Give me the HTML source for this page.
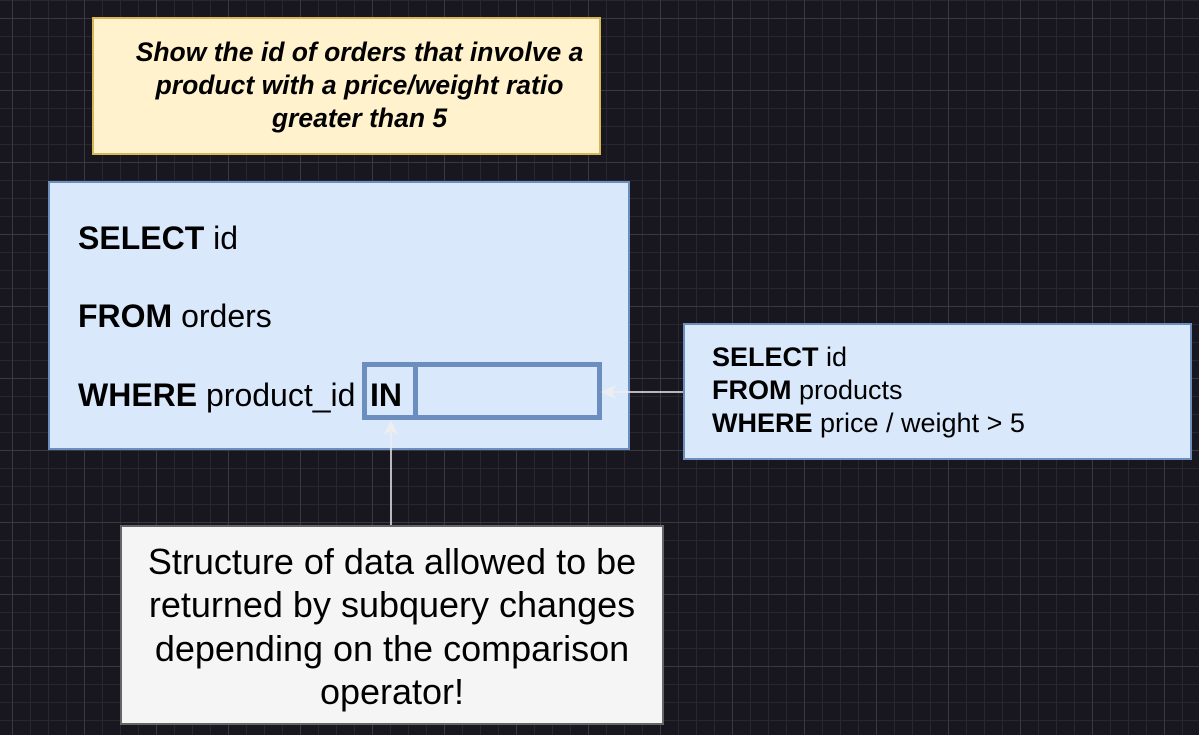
<!DOCTYPE html>
<html><head><style>
body{margin:0;width:1199px;height:735px;overflow:hidden;background:#18161e;font-family:"Liberation Sans",Arial,sans-serif;}
.bg{position:absolute;left:0;top:0;width:1199px;height:735px;
background-image:
linear-gradient(to right,#3a3840 1px,transparent 1px),
linear-gradient(to bottom,#3a3840 1px,transparent 1px),
linear-gradient(to right,#28262e 1px,transparent 1px),
linear-gradient(to bottom,#28262e 1px,transparent 1px);
background-size:72px 72px,72px 72px,18px 18px,18px 18px;
background-position:12px 18px,12px 18px,12px 0,12px 0;}
.b{position:absolute;box-sizing:border-box;white-space:nowrap;}
</style></head><body>
<div class="b bg"></div>
<div class="b" style="left:92px;top:17px;width:509px;height:138px;background:#fff2cc;border:2px solid #d6b656;"></div>
<div class="b" style="left:92px;top:36px;width:509px;text-align:center;font-weight:bold;font-style:italic;font-size:26.5px;line-height:33px;color:#000;padding-left:26px;">Show the id of orders that involve a<br>product with a price/weight ratio<br>greater than 5</div>

<div class="b" style="left:48px;top:181px;width:582px;height:269px;background:#dae8fc;border:2px solid #6c8ebf;"></div>
<div class="b" style="left:78px;top:219px;font-size:32px;line-height:38px;color:#000;"><b>SELECT</b> id</div>
<div class="b" style="left:78px;top:297px;font-size:32px;line-height:38px;color:#000;"><b>FROM</b> orders</div>
<div class="b" style="left:78px;top:376px;font-size:32px;line-height:38px;color:#000;"><b>WHERE</b> product_id</div>
<div class="b" style="left:362px;top:362px;width:240px;height:58px;border:5px solid #6c8ebf;"></div>
<div class="b" style="left:413px;top:362px;width:5px;height:58px;background:#6c8ebf;"></div>
<div class="b" style="left:370px;top:376px;font-size:32px;line-height:38px;font-weight:bold;color:#000;">IN</div>

<div class="b" style="left:683px;top:323px;width:509px;height:137px;background:#dae8fc;border:2px solid #6c8ebf;"></div>
<div class="b" style="left:712px;top:341px;font-size:27px;line-height:33px;color:#000;"><b>SELECT</b> id<br><b>FROM</b> products<br><b>WHERE</b> price / weight &gt; 5</div>

<div class="b" style="left:120px;top:525px;width:544px;height:200px;background:#f5f5f5;border:2px solid #666;"></div>
<div class="b" style="left:120px;top:540px;width:544px;text-align:center;font-size:36px;line-height:43.3px;color:#000;">Structure of data allowed to be<br>returned by subquery changes<br>depending on the comparison<br>operator!</div>

<svg class="b" style="left:0;top:0" width="1199" height="735">
<line x1="683" y1="392" x2="612" y2="392" stroke="#eeeeee" stroke-width="1.5"/>
<polygon points="601,392 616,385 612,392 616,399" fill="#eeeeee"/>
<line x1="391" y1="525" x2="391" y2="432" stroke="#eeeeee" stroke-width="1.5"/>
<polygon points="391,420 384,435 391,431 398,435" fill="#eeeeee"/>
</svg>
</body></html>
